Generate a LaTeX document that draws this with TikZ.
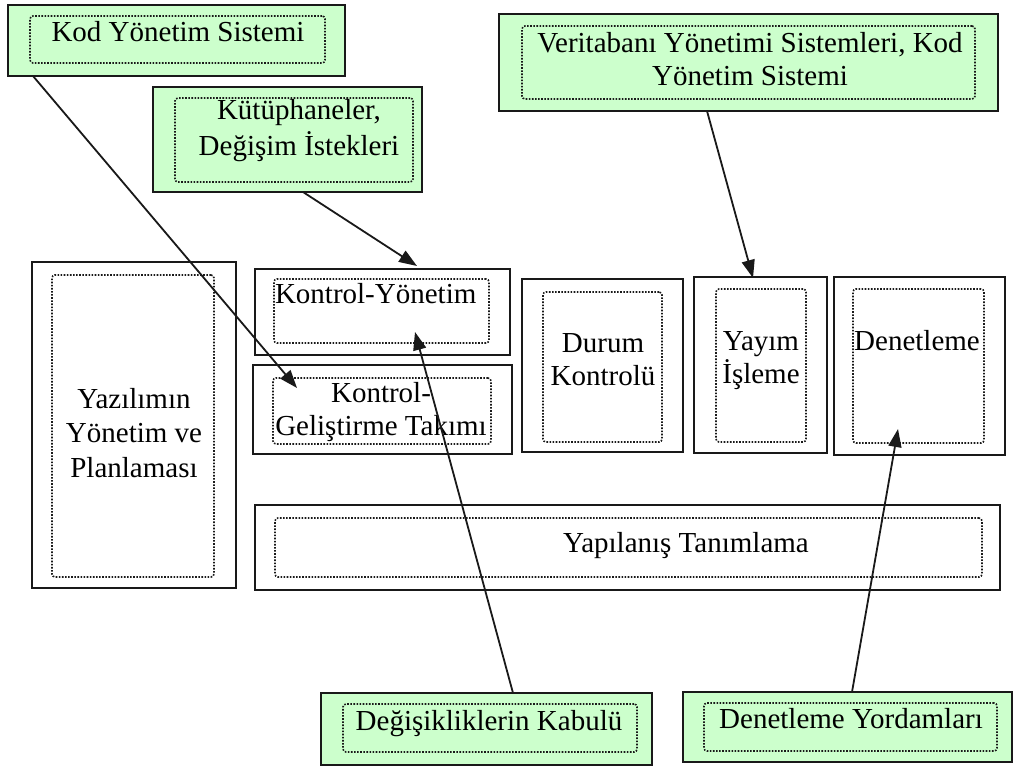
\documentclass[tikz,border=0pt]{standalone}
\usepackage{fontspec}
\setmainfont{Liberation Serif}
\usetikzlibrary{arrows.meta,calc}
\definecolor{mint}{HTML}{CCFFCC}
% centred lines with a fixed baseline distance; baseline = first line
\newcommand\lns[2]{\vtop{\baselineskip=#1\lineskiplimit=-\maxdimen\lineskip=0pt\halign{\hfil##\hfil\cr#2\crcr}}}
\tikzset{
  outerbox/.style={draw=black!90, line width=2pt, fill=white, inner sep=0pt, outer sep=0pt},
  greenbox/.style={outerbox, fill=mint},
  innerbox/.style={draw=black!90, line width=1.6pt, dash pattern=on 1.6pt off 1.5pt,
                   rounded corners=3pt, inner sep=0pt, outer sep=0pt},
  label/.style={inner sep=0pt, outer sep=0pt, anchor=base,
                font=\fontsize{29}{34}\selectfont},
  conn/.style={draw=black!90, line width=1.8pt, -{Triangle[length=18pt,width=13pt]}},
}
\begin{document}
\begin{tikzpicture}[x=1pt,y=-1pt]
\useasboundingbox (0,0) rectangle (1016,767);

% ---- green source boxes
\node[greenbox, minimum width=337, minimum height=71] (kod) at (176.5,40.5) {};
\node[innerbox, minimum width=295, minimum height=47] (kod-i) at (177.5,39.5) {};
\node[label] (kod-t) at (178,42) {Kod Yönetim Sistemi};

\node[greenbox, minimum width=269, minimum height=105] (kut) at (287.5,139.5) {};
\node[innerbox, minimum width=238, minimum height=84] (kut-i) at (294,140) {};
\node[label] (kut-t) at (299,120) {\lns{36pt}{Kütüphaneler,\cr Değişim İstekleri}};

\node[greenbox, minimum width=499, minimum height=97] (vt) at (748.5,62.5) {};
\node[innerbox, minimum width=453, minimum height=73] (vt-i) at (748.5,62.5) {};
\node[label] (vt-t) at (750,53) {\lns{33pt}{Veritabanı Yönetimi Sistemleri, Kod\cr Yönetim Sistemi}};

\node[greenbox, minimum width=331, minimum height=72] (dg) at (486.5,729) {};
\node[innerbox, minimum width=294, minimum height=48] (dg-i) at (490,728) {};
\node[label] (dg-t) at (489,730) {Değişikliklerin Kabulü};

\node[greenbox, minimum width=329, minimum height=70] (dy) at (847.5,727) {};
\node[innerbox, minimum width=293, minimum height=48] (dy-i) at (850.5,727) {};
\node[label] (dy-t) at (851,728) {Denetleme Yordamları};

% ---- white component boxes
\node[outerbox, minimum width=204, minimum height=326] (yp) at (134,425) {};
\node[innerbox, minimum width=162, minimum height=302] (yp-i) at (133,426) {};
\node[label] (yp-t) at (134,408) {\lns{34.5pt}{Yazılımın\cr Yönetim ve\cr Planlaması}};

\node[outerbox, minimum width=255, minimum height=86] (ky) at (382.5,312) {};
\node[innerbox, minimum width=215, minimum height=64] (ky-i) at (381.5,311) {};
\node[label, anchor=base west] (ky-t) at (275,303) {Kontrol-Yönetim};

\node[outerbox, minimum width=259, minimum height=89] (kg) at (382.5,409.5) {};
\node[innerbox, minimum width=218, minimum height=66] (kg-i) at (382,411) {};
\node[label] (kg-t) at (381,402) {\lns{33pt}{Kontrol-\cr Geliştirme Takımı}};

\node[outerbox, minimum width=161, minimum height=173] (dk) at (602.5,365.5) {};
\node[innerbox, minimum width=119, minimum height=150] (dk-i) at (602.5,367) {};
\node[label] (dk-t) at (603,352) {\lns{33pt}{Durum\cr Kontrolü}};

\node[outerbox, minimum width=133, minimum height=176] (yi) at (760.5,365) {};
\node[innerbox, minimum width=90, minimum height=153] (yi-i) at (761,365.5) {};
\node[label] (yi-t) at (761,350) {\lns{33pt}{Yayım\cr İşleme}};

\node[outerbox, minimum width=171, minimum height=178] (dn) at (919.5,366) {};
\node[innerbox, minimum width=131, minimum height=154] (dn-i) at (918.5,366) {};
\node[label] (dn-t) at (917,350) {Denetleme};

\node[outerbox, minimum width=745, minimum height=85] (yt) at (627.5,547.5) {};
\node[innerbox, minimum width=707, minimum height=59] (yt-i) at (628.5,547.5) {};
\node[label] (yt-t) at (686,552) {Yapılanış Tanımlama};

% ---- connector end points
\coordinate (a1) at ($(kod.south west)+(25,0)$);
\coordinate (a2) at ($(kg.north west)+(44,23)$);
\coordinate (b1) at ($(kut.south west)+(150,0)$);
\coordinate (b2) at ($(ky.north west)+(162,-3)$);
\coordinate (c1) at ($(vt.south west)+(208,0)$);
\coordinate (c2) at ($(yi.north west)+(59,1)$);
\coordinate (d1) at ($(dg.north west)+(192,0)$);
\coordinate (d2) at ($(ky.south west)+(160,-23)$);
\coordinate (e1) at ($(dy.north west)+(169,0)$);
\coordinate (e2) at ($(dn.south west)+(64,-26)$);

% ---- connectors
\draw[conn] (a1) -- (a2);
\draw[conn] (b1) -- (b2);
\draw[conn] (c1) -- (c2);
\draw[conn] (d1) -- (d2);
\draw[conn] (e1) -- (e2);
\end{tikzpicture}
\end{document}
